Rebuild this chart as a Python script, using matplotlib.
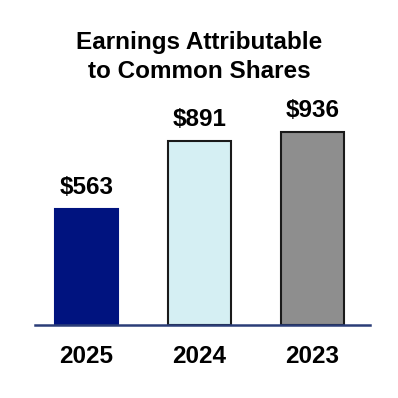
import matplotlib
matplotlib.use("Agg")
import matplotlib.pyplot as plt

# data
years = ["2025", "2024", "2023"]
earnings = [563, 891, 936]
labels = ["$563", "$891", "$936"]
colors = ["#00137f", "#d5eff3", "#8e8e8e"]
edges = ["#00137f", "#1a1a1a", "#1a1a1a"]

plt.rcParams['font.family'] = ['Liberation Sans', 'DejaVu Sans']

fig = plt.figure(figsize=(3.98, 3.98), dpi=100)
# axes placed in pixel terms: x 35..370, baseline at y=325, top at y=100
ax = fig.add_axes([35 / 398, 73 / 398, 335 / 398, 225 / 398])

x = list(range(len(years)))
ax.bar(x, earnings, width=0.566, color=colors, edgecolor=edges, linewidth=1.5, zorder=2)
ax.set_xlim(-0.456, 2.509)
ax.set_ylim(0, 1092)

for xi, v, lab in zip(x, earnings, labels):
    ax.annotate(lab, xy=(xi, v), xytext=(0, 7.5), textcoords='offset points',
                ha='center', va='bottom', fontsize=17.5, fontweight='bold')

for s in ['top', 'right', 'left']:
    ax.spines[s].set_visible(False)
ax.spines['bottom'].set_color('#2b3d78')
ax.spines['bottom'].set_linewidth(1.8)
ax.spines['bottom'].set_zorder(3)
ax.set_yticks([])
ax.set_xticks(x)
ax.set_xticklabels(years, fontsize=17.5, fontweight='bold')
ax.tick_params(axis='x', length=0, pad=14.5)

fig.text(0.5, 1 - 57 / 398, "Earnings Attributable\nto Common Shares", ha='center', va='center',
         fontsize=17.5, fontweight='bold', linespacing=1.35)

fig.savefig("out.png", dpi=100)
